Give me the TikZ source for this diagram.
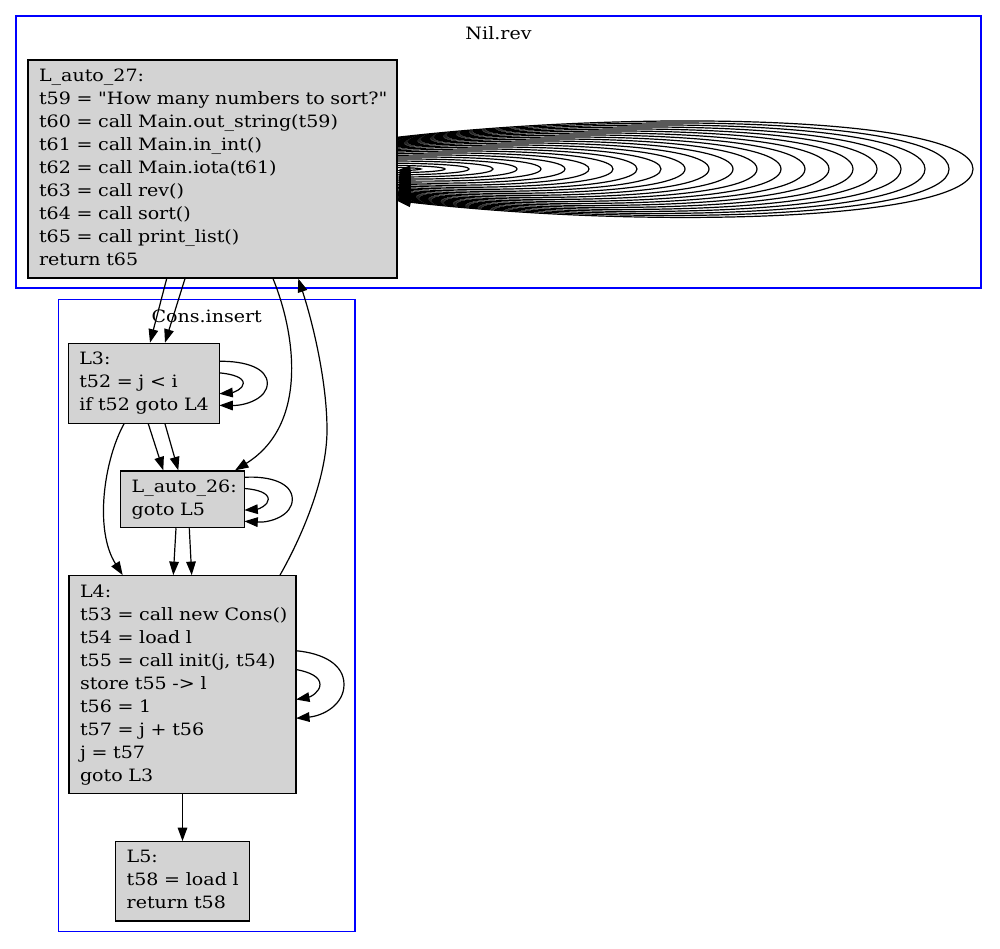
\documentclass[tikz,border=0pt]{standalone}
\usepackage{fontspec}
\setmainfont{DejaVu Serif}[FakeStretch=1.12, Ligatures=TeXOff]
\usetikzlibrary{arrows.meta}
\definecolor{gvgray}{HTML}{D3D3D3}
\definecolor{gvblue}{HTML}{0000FF}
\newcommand\gvnewton[1]{\pgfmathsetmacro\LT{\LT-(3*(1-\LT)^2*\LT*\LA+3*(1-\LT)*\LT^2*\LDX+\LT^3*\LDX-#1)/(3*(1-\LT)^2*\LA+6*(1-\LT)*\LT*(\LDX-\LA))}}
\newcommand\gvloop[5]{%
  \pgfmathsetmacro\LDX{#2+#3*#4}%
  \pgfmathsetmacro\LA{\LDX/3}%
  \pgfmathsetmacro\LDY{#3*#5}%
  \def\LT{0.5}%
  \gvnewton{#2}\gvnewton{#2}\gvnewton{#2}\gvnewton{#2}\gvnewton{#2}\gvnewton{#2}\gvnewton{#2}%
  \pgfmathsetmacro\LAx{\LT*\LA}%
  \pgfmathsetmacro\LBx{\LA+\LT*(\LDX-\LA)}%
  \pgfmathsetmacro\LDx{\LAx+\LT*(\LBx-\LAx)}%
  \pgfmathsetmacro\LEx{\LBx+\LT*(\LDX-\LBx)}%
  \pgfmathsetmacro\LFx{\LDx+\LT*(\LEx-\LDx)}%
  \pgfmathsetmacro\LCy{\LDY*(1-\LT)}%
  \pgfmathsetmacro\LEy{\LDY*(1-\LT*\LT)}%
  \pgfmathsetmacro\LFy{3*\LDY*\LT*(1-\LT)}%
  \draw[edge] ([shift={(\LFx,-\LFy)}]#1.center) .. controls ([shift={(\LEx,-\LEy)}]#1.center) and ([shift={(\LDX,-\LCy)}]#1.center) .. ([shift={(\LDX,0)}]#1.center) .. controls ([shift={(\LDX,\LCy)}]#1.center) and ([shift={(\LEx,\LEy)}]#1.center) .. ([shift={(\LFx,\LFy)}]#1.center);%
}
\tikzset{
  edge/.style={line width=1.2pt, -{Triangle[length=13.5pt,width=9.6pt]}},
  box/.style={draw, line width=1.2pt, fill=gvgray, inner xsep=11pt, inner ysep=0pt, align=left, anchor=center, font=\fontsize{17}{23}\selectfont},
  clusterbox/.style={draw=gvblue, line width=1.2pt, inner sep=0pt},
  lbl/.style={inner sep=0pt, font=\fontsize{17}{23}\selectfont}
}
\begin{document}
\begin{tikzpicture}[x=1pt,y=-1pt]
\useasboundingbox (0,0) rectangle (1000,948);
\fill[white] (0,0) rectangle (1000,948);
% clusters
\node[clusterbox, minimum width=965pt, minimum height=272pt] (cnil) at (498.5,152) {};
\node[lbl] (cnillbl) at (498.5,33) {Nil.rev};
\node[clusterbox, minimum width=296.7pt, minimum height=632.2pt] (ccons) at (206.65,615.4) {};
\node[lbl] (cconslbl) at (206.7,316.7) {Cons.insert};
% nodes
\node[box, minimum width=369pt, minimum height=218pt, text width=347pt] (n27) at (212.5,169) {\begin{tabular}{@{}l@{}}L\_auto\_27:\\ t59 = "How many numbers to sort?"\\ t60 = call Main.out\_string(t59)\\ t61 = call Main.in\_int()\\ t62 = call Main.iota(t61)\\ t63 = call rev()\\ t64 = call sort()\\ t65 = call print\_list()\\ return t65\end{tabular}};
\node[box, minimum width=151pt, minimum height=80pt, text width=129pt] (l3) at (143.8,383.3) {\begin{tabular}{@{}l@{}}L3:\\ t52 = j < i\\ if t52 goto L4\end{tabular}};
\node[box, minimum width=123.6pt, minimum height=56.7pt, text width=101.6pt] (l26) at (182.5,499.3) {\begin{tabular}{@{}l@{}}L\_auto\_26:\\ goto L5\end{tabular}};
\node[box, minimum width=227pt, minimum height=217.6pt, text width=205pt] (l4) at (182.5,684.5) {\begin{tabular}{@{}l@{}}L4:\\ t53 = call new Cons()\\ t54 = load l\\ t55 = call init(j, t54)\\ store t55 -> l\\ t56 = 1\\ t57 = j + t56\\ j = t57\\ goto L3\end{tabular}};
\node[box, minimum width=133.6pt, minimum height=79.3pt, text width=111.6pt] (l5) at (182.5,881.3) {\begin{tabular}{@{}l@{}}L5:\\ t58 = load l\\ return t58\end{tabular}};
% edges
\draw[edge] ([xshift=-45.8pt]n27.south) -- ([xshift=6.2pt]l3.north);
\draw[edge] ([xshift=-27.5pt]n27.south) -- ([xshift=21.2pt]l3.north);
\draw[edge] ([xshift=60.5pt]n27.south) .. controls (296,335) and (308,425) .. ([xshift=52.5pt]l26.north);
\draw[edge] ([xshift=97.5pt]l4.north) .. controls (300,540) and (327,480) .. (327,430) .. controls (327,380) and (312,320) .. ([xshift=85.8pt]n27.south);
\draw[edge] ([xshift=4.5pt]l3.south) -- ([xshift=-19.2pt]l26.north);
\draw[edge] ([xshift=21.2pt]l3.south) -- ([xshift=-4.2pt]l26.north);
\draw[edge] ([xshift=-19.8pt]l3.south) .. controls (104,460) and (94,530) .. ([xshift=-59.8pt]l4.north);
\draw[edge] ([xshift=-6.5pt]l26.south) -- ([xshift=-9.2pt]l4.north);
\draw[edge] ([xshift=6.8pt]l26.south) -- ([xshift=9.2pt]l4.north);
\draw[edge] (l4.south) -- (l5.north);
% self loops
\gvloop{l3}{75.5}{1}{24}{14.7}
\gvloop{l3}{75.5}{2}{24}{14.7}
\gvloop{l26}{61.8}{1}{24}{14.8}
\gvloop{l26}{61.8}{2}{24}{14.8}
\gvloop{l4}{113.5}{1}{24}{22.9}
\gvloop{l4}{113.5}{2}{24}{22.9}
\foreach \i in {1,...,24}{\gvloop{n27}{184.5}{\i}{24}{2.67}}
\end{tikzpicture}
\end{document}
